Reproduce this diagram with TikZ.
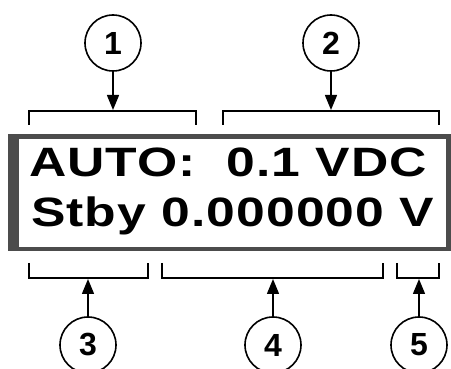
\documentclass[tikz,border=0pt]{standalone}
\usepackage{fontspec}
\setmainfont{Liberation Sans}
\newfontfamily\lcdfont[LetterSpace=2]{Liberation Sans}
\usetikzlibrary{arrows.meta}

\begin{document}
\begin{tikzpicture}[x=1pt, y=-1pt,
    callout/.style={draw, circle, line width=1.6pt, minimum size=56pt, inner sep=0pt,
      font=\fontsize{32}{32}\selectfont\bfseries},
    pointer/.style={line width=1.5pt, -{Triangle[length=15pt, width=12pt]}},
    bracket/.style={line width=1.5pt},
    lcdline/.style={anchor=base west, inner sep=0pt}]
        \useasboundingbox (0, 0) rectangle (451, 369);

        % display window
        \fill[black!70] (8, 134) rectangle (451, 251);
        \fill[white] (19, 139) rectangle (446, 247);
        \node[lcdline] (top) at (29, 177)
          {\scalebox{1.26}[1]{\lcdfont\bfseries\fontsize{41}{41}\selectfont AUTO:\ \ 0.1 VDC}};
        \node[lcdline] (bottom) at (31, 227)
          {\scalebox{1.26}[1]{\lcdfont\bfseries\fontsize{41}{41}\selectfont Stby 0.000000 V}};

        % upper callouts
        \node[callout] (c1) at (113, 43) {1};
        \node[callout] (c2) at (331, 43) {2};
        \coordinate (b1) at (113, 110);
        \coordinate (b2) at (331, 110);
        \draw[bracket] (29, 125) -- (29, 111) -- (196, 111) -- (196, 125);
        \draw[bracket] (223, 125) -- (223, 111) -- (439, 111) -- (439, 125);
        \draw[pointer] (c1) -- (b1);
        \draw[pointer] (c2) -- (b2);

        % lower callouts
        \node[callout] (c3) at (88, 345) {3};
        \node[callout] (c4) at (273, 345) {4};
        \node[callout] (c5) at (419, 345) {5};
        \coordinate (b3) at (88, 279);
        \coordinate (b4) at (273, 279);
        \coordinate (b5) at (419, 279);
        \draw[bracket] (29, 263) -- (29, 278) -- (148, 278) -- (148, 263);
        \draw[bracket] (162, 263) -- (162, 278) -- (383, 278) -- (383, 263);
        \draw[bracket] (397, 263) -- (397, 278) -- (439, 278) -- (439, 263);
        \draw[pointer] (c3) -- (b3);
        \draw[pointer] (c4) -- (b4);
        \draw[pointer] (c5) -- (b5);
      \end{tikzpicture}
\end{document}
